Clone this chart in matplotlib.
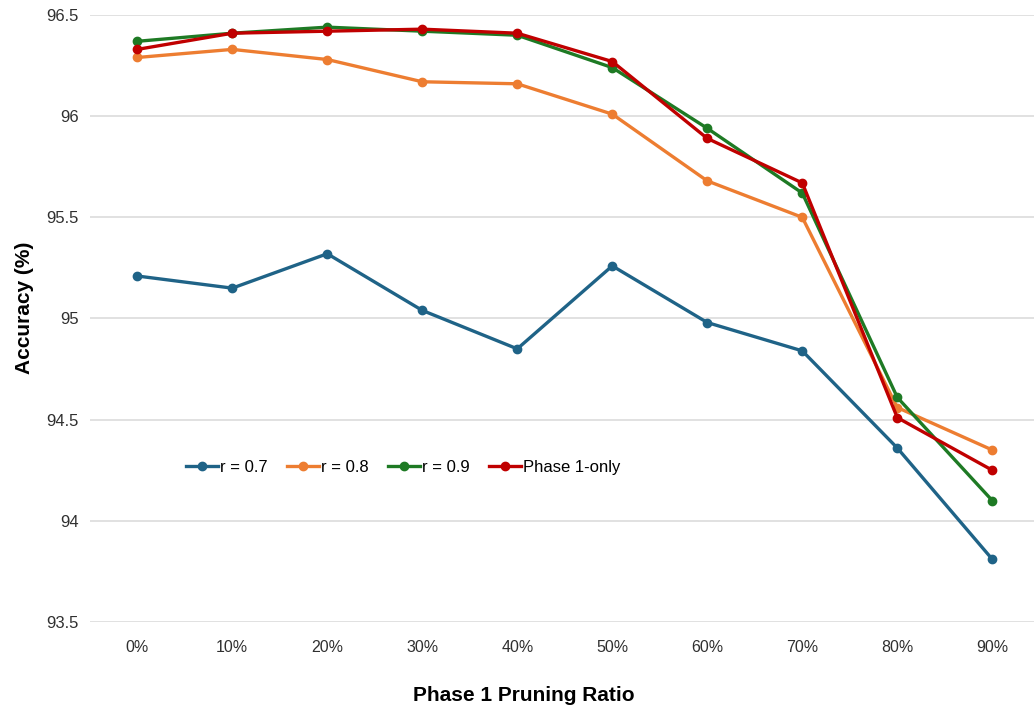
import numpy as np
import matplotlib
matplotlib.use("Agg")
import matplotlib.pyplot as plt

plt.rcParams["font.family"] = ["Liberation Sans", "DejaVu Sans"]

ratios = ["0%", "10%", "20%", "30%", "40%", "50%", "60%", "70%", "80%", "90%"]
acc_r07 = [95.21, 95.15, 95.32, 95.04, 94.85, 95.26, 94.98, 94.84, 94.36, 93.81]
acc_r08 = [96.29, 96.33, 96.28, 96.17, 96.16, 96.01, 95.68, 95.50, 94.56, 94.35]
acc_r09 = [96.37, 96.41, 96.44, 96.42, 96.40, 96.24, 95.94, 95.62, 94.61, 94.10]
acc_phase1 = [96.33, 96.41, 96.42, 96.43, 96.41, 96.27, 95.89, 95.67, 94.51, 94.25]

series = [
    ("r = 0.7", acc_r07, "#1f6387"),
    ("r = 0.8", acc_r08, "#ed7d31"),
    ("r = 0.9", acc_r09, "#1e7a24"),
    ("Phase 1-only", acc_phase1, "#c00000"),
]

fig = plt.figure(figsize=(10.34, 7.11), dpi=100)
ax = fig.add_axes([0.0868, 0.1252, 0.9188, 0.8537])

x = np.arange(len(ratios))
for label, vals, color in series:
    ax.plot(x, vals, color=color, lw=2.4, marker="o", ms=6,
            label=label, solid_joinstyle="round", zorder=3)

ax.set_xlim(-0.5, len(ratios) - 0.5)
ax.set_ylim(93.5, 96.5)
ax.set_yticks(np.arange(93.5, 96.51, 0.5))
ax.set_yticklabels(["93.5", "94", "94.5", "95", "95.5", "96", "96.5"])
ax.set_xticks(x)
ax.set_xticklabels(ratios)

ax.grid(axis="y", color="#d9d9d9", lw=1.1)
ax.set_axisbelow(True)
for s in ax.spines.values():
    s.set_visible(False)
ax.tick_params(axis="both", length=0, colors="#303030")
ax.tick_params(axis="y", labelsize=12, pad=8)
ax.tick_params(axis="x", labelsize=11.5, pad=13)

ax.set_ylabel("Accuracy (%)", fontsize=15, fontweight="bold")
ax.yaxis.set_label_coords(-0.059, 0.517)
ax.set_xlabel("Phase 1 Pruning Ratio", fontsize=15, fontweight="bold")
ax.xaxis.set_label_coords(0.457, -0.1055)

ax.legend(loc="center", bbox_to_anchor=(0.33, 0.255), ncol=4, frameon=False,
          fontsize=12, handlelength=1.9, handletextpad=0.1,
          columnspacing=1.2)

fig.savefig("out.png", dpi=100)
